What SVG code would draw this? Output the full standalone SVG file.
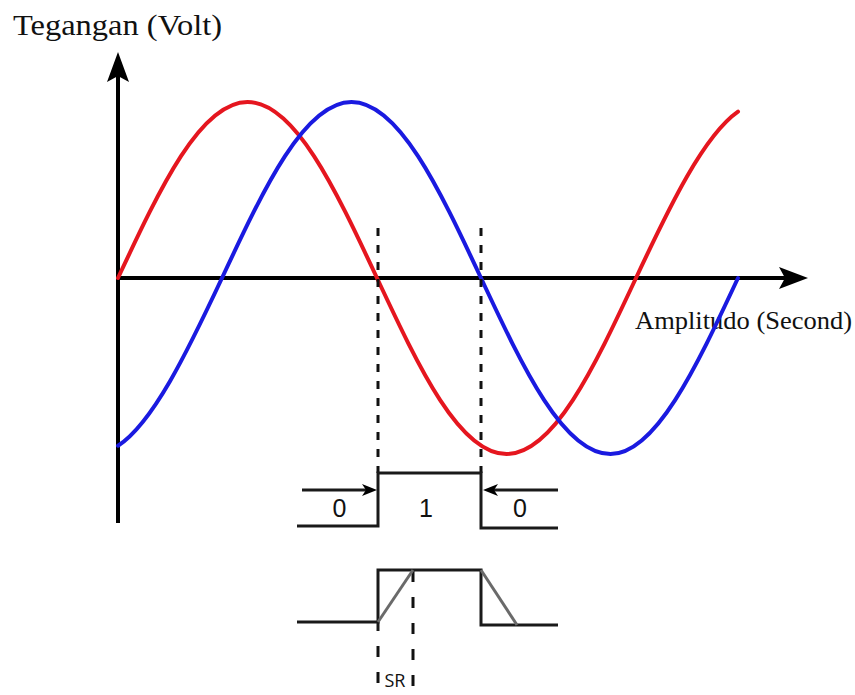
<svg xmlns="http://www.w3.org/2000/svg" width="855" height="695" viewBox="0 0 855 695">
  <style>
    .axis { stroke: #000; stroke-width: 4; fill: none; }
    .head { fill: #000; stroke: none; }
    .wave { fill: none; stroke-width: 4; stroke-linecap: round; }
    .red { stroke: #e5161f; }
    .blue { stroke: #1a1ae0; }
    .pulse { fill: none; stroke: #1a1a1a; stroke-width: 3; }
    .ramp { fill: none; stroke: #6a6a6a; stroke-width: 3; }
    .dash { stroke: #111; stroke-width: 3; stroke-dasharray: 8 9; fill: none; }
    .dash2 { stroke: #111; stroke-width: 3; stroke-dasharray: 11 15; fill: none; }
    .serif { font-family: "Liberation Serif", "Times New Roman", serif; fill: #111; }
    .sans { font-family: "Liberation Sans", Arial, sans-serif; fill: #111; }
    .sr { font-family: "Open Sans", "DejaVu Sans", sans-serif; fill: #111; }
  </style>
  <rect width="855" height="695" fill="#ffffff"/>

  <g id="axes">
    <line class="axis" x1="118" y1="72" x2="118" y2="523"/>
    <polygon class="head" points="118,52 129,82 118,76 107,82"/>
    <line class="axis" x1="118" y1="278" x2="790" y2="278"/>
    <polygon class="head" points="808,278 779,289 785,278 779,267"/>
  </g>

  <g id="axis-labels">
    <text class="serif" x="13" y="35" font-size="30" textLength="209" lengthAdjust="spacingAndGlyphs">Tegangan (Volt)</text>
    <text class="serif" x="635" y="329" font-size="26" textLength="217" lengthAdjust="spacingAndGlyphs">Amplitudo (Second)</text>
  </g>

  <g id="red-wave">
    <path class="wave red" d="M118,278 C160.2,187.8 200.6,102 247.5,102 C294.4,102 334.8,187.8 377,278 C419.2,368.2 459.6,454 506.5,454 C553.4,454 593.8,368.2 636,278 C670,205.4 704,135.4 738,111.7"/>
  </g>

  <g id="blue-wave">
    <path class="wave blue" d="M118,445.7 C152.7,423.2 187.3,352 222,278 C264.2,187.8 304.6,102 351.5,102 C398.4,102 438.8,187.8 481,278 C523.2,368.2 563.6,454 610.5,454 C655.4,454 695.8,368.2 738,278"/>
  </g>

  <g id="connectors">
    <line class="dash" x1="378" y1="228" x2="378" y2="473"/>
    <line class="dash" x1="481" y1="228" x2="481" y2="473"/>
    <line class="dash2" x1="378" y1="646" x2="378" y2="686"/>
    <line class="dash2" x1="413" y1="571" x2="413" y2="686"/>
    <line class="pulse" x1="378" y1="622" x2="378" y2="631"/>
  </g>

  <g id="pulse-ideal">
    <polyline class="pulse" points="297,526 378,526 378,473 481,473 481,528 558,528"/>
    <line class="pulse" x1="302" y1="490" x2="366" y2="490"/>
    <polygon class="head" points="377,490 362,484 366,490 362,496"/>
    <line class="pulse" x1="494" y1="490" x2="558" y2="490"/>
    <polygon class="head" points="483,490 498,484 494,490 498,496"/>
    <text class="sans" x="339.5" y="517" font-size="25" text-anchor="middle">0</text>
    <text class="sans" x="426" y="517" font-size="25" text-anchor="middle">1</text>
    <text class="sans" x="520" y="517" font-size="25" text-anchor="middle">0</text>
  </g>

  <g id="pulse-real">
    <polyline class="pulse" points="297,622 378,622 378,570 481,570 481,625 558,625"/>
    <line class="ramp" x1="378" y1="622" x2="413" y2="570"/>
    <line class="ramp" x1="481" y1="570" x2="517" y2="625"/>
    <text class="sr" x="395" y="687" font-size="18" text-anchor="middle">SR</text>
  </g>
</svg>
